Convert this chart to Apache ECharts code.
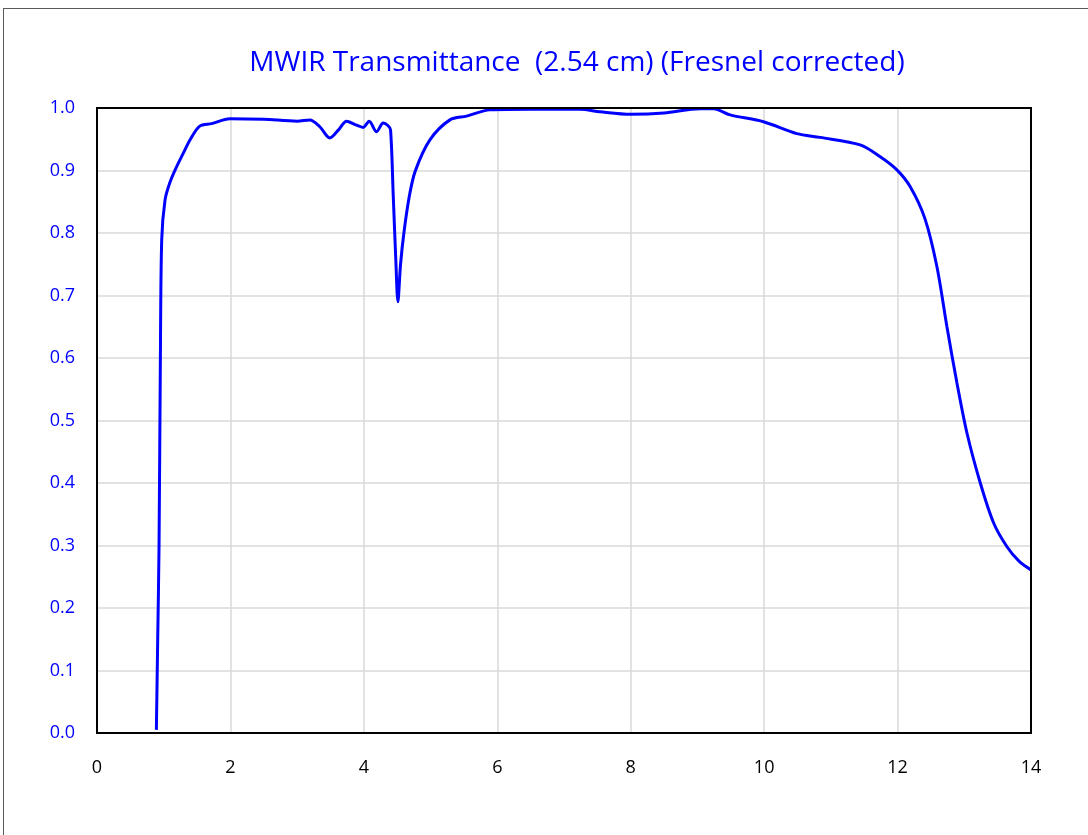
<!DOCTYPE html>
<html>
<head>
<meta charset="utf-8">
<script src="https://cdn.jsdelivr.net/npm/echarts@6/dist/echarts.min.js"></script>
<style>
  html, body { margin: 0; padding: 0; background: #fff; }
  #frame {
    position: absolute; left: 3px; top: 8px; width: 1200px; height: 900px;
    border: 1px solid #595959; box-sizing: border-box;
  }
  #chart { position: absolute; left: 0; top: 0; width: 1088px; height: 835px; }
</style>
</head>
<body>
<div id="frame"></div>
<div id="chart"></div>
<script>
// wavelength (um) and transmittance
const wavelength = [0.89, 0.91, 0.93, 0.95, 0.97, 1.02, 1.09, 1.18, 1.29, 1.4, 1.54, 1.72, 1.99,
  2.5, 3.0, 3.19, 3.34, 3.49, 3.62, 3.74, 3.88, 3.99, 4.08, 4.19, 4.29, 4.36, 4.4, 4.44, 4.48, 4.51,
  4.55, 4.6, 4.68, 4.77, 4.99, 5.29, 5.54, 5.89, 6.5, 7.24, 7.54, 8.0, 8.5, 9.04, 9.24, 9.49, 9.99,
  10.49, 10.84, 11.44, 11.74, 11.99, 12.19, 12.41, 12.59, 12.74, 12.89, 13.04, 13.24, 13.44,
  13.64, 13.82, 14.0]
const transmittance = [0.005, 0.15, 0.3, 0.6, 0.789, 0.853, 0.88, 0.903, 0.927, 0.95, 0.971, 0.975, 0.983,
  0.982, 0.979, 0.981, 0.970, 0.952, 0.965, 0.979, 0.973, 0.969, 0.979, 0.962, 0.976, 0.972, 0.965, 0.861, 0.754, 0.69,
  0.75, 0.80, 0.858, 0.899, 0.949, 0.981, 0.987, 0.997, 0.998, 0.998, 0.994, 0.99, 0.992, 0.999, 0.999, 0.989, 0.978,
  0.959, 0.953, 0.941, 0.922, 0.901, 0.874, 0.823, 0.746, 0.65, 0.56, 0.48, 0.40, 0.336,
  0.298, 0.275, 0.261]
const chartTitle = 'MWIR Transmittance  (2.54 cm) (Fresnel corrected)'

const points = wavelength.map((w, i) => [w, transmittance[i]])

const chart = echarts.init(document.getElementById('chart'))
chart.setOption({
  animation: false,
  title: {
    text: chartTitle,
    left: 572,
    top: 44,
    textAlign: 'center',
    textStyle: { color: '#0000ff', fontSize: 28, fontWeight: 'normal', fontFamily: 'Open Sans' }
  },
  grid: { left: 97, top: 108, right: 57, bottom: 102, show: true, borderColor: '#000', borderWidth: 2, z: 5 },
  xAxis: {
    type: 'value', min: 0, max: 14, interval: 2,
    axisLine: { show: false }, axisTick: { show: false },
    axisLabel: { color: '#000', fontSize: 18, margin: 26, fontFamily: 'Open Sans' },
    splitLine: { showMinLine: false, showMaxLine: false, lineStyle: { color: '#d9d9d9', width: 1.5 } }
  },
  yAxis: {
    type: 'value', min: 0, max: 1, interval: 0.1,
    axisLine: { show: false }, axisTick: { show: false },
    axisLabel: { color: '#0000ff', fontSize: 18, margin: 22, fontFamily: 'Open Sans', formatter: v => v.toFixed(1) },
    splitLine: { showMinLine: false, showMaxLine: false, lineStyle: { color: '#d9d9d9', width: 1.5 } }
  },
  series: [{
    type: 'line',
    data: points,
    smooth: 0.3,
    showSymbol: false,
    lineStyle: { color: '#0000ff', width: 3 }
  }]
})
</script>
</body>
</html>
